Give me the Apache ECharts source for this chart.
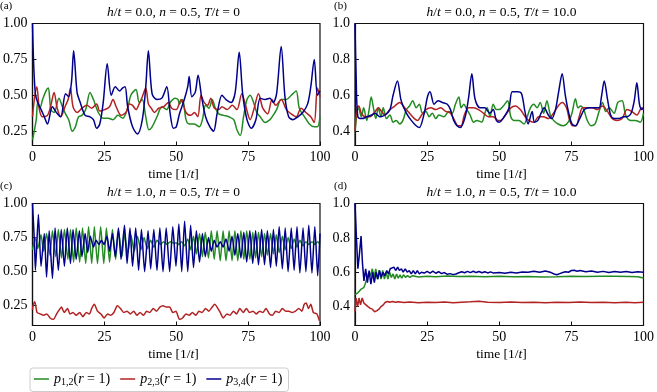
<!DOCTYPE html>
<html>
<head>
<meta charset="utf-8">
<script src="https://cdn.jsdelivr.net/npm/echarts@6/dist/echarts.min.js"></script>
<style>
  html,body{margin:0;padding:0;background:#fff}
  #chart{width:657px;height:392px}
</style>
</head>
<body>
<div id="chart"></div>
<script>
// ── ticks ────────────────────────────────────────────────
const xTicks  = [0, 25, 50, 75, 100];
const yTicksA = [0.25, 0.5, 0.75, 1.0];   // panels (a), (c)
const yTicksB = [0.4, 0.6, 0.8, 1.0];     // panels (b), (d)

// ── (a) h/t = 0.0, T/t = 0 : [time, p] ───────────────────
const aGreen = [[0,0.19],[1.3,0.33],[1.8,0.45],[2.6,0.41],[3.5,0.47],[4.7,0.53],[5.5,0.55],[6.4,0.40],[7.5,0.38],[9.2,0.48],[10.4,0.42],[11.5,0.37],[12.6,0.33],[13.8,0.25],[14.9,0.28],[16,0.35],[17.2,0.36],[18.5,0.40],[20,0.52],[21.2,0.47],[22.9,0.38],[24.6,0.34],[26.3,0.34],[28,0.33],[29.7,0.36],[31.4,0.34],[33.1,0.41],[34.2,0.50],[36,0.54],[37.1,0.45],[38.2,0.47],[39.4,0.35],[40.5,0.26],[41.6,0.28],[43.3,0.35],[45,0.42],[46.7,0.40],[47.9,0.45],[49.6,0.48],[50.6,0.47],[51.1,0.44],[52.2,0.47],[53.4,0.33],[54.5,0.30],[56.3,0.30],[58,0.28],[59.1,0.33],[60.2,0.43],[61.4,0.41],[62.5,0.47],[63.6,0.41],[64.8,0.37],[66.5,0.36],[68.3,0.35],[70,0.33],[71.1,0.26],[72.3,0.22],[73.4,0.35],[74.6,0.47],[75.7,0.50],[76.9,0.45],[78,0.38],[79.2,0.35],[80.9,0.31],[82.6,0.33],[83.7,0.36],[84.9,0.40],[86.5,0.47],[88.3,0.47],[90,0.50],[91.7,0.53],[92.8,0.41],[94.6,0.35],[96.3,0.30],[98,0.28],[99.1,0.28],[100,0.35]];
const aRed = [[0,0.35],[0.7,0.48],[1.5,0.56],[2.4,0.40],[3.5,0.35],[5.2,0.36],[6.4,0.43],[7.5,0.52],[8.6,0.41],[9.8,0.35],[11.5,0.43],[12.4,0.47],[13.2,0.55],[14.1,0.42],[15.5,0.38],[17.2,0.41],[18.9,0.43],[20.6,0.41],[22.3,0.44],[23.4,0.39],[25.1,0.40],[26.8,0.42],[28,0.47],[29.1,0.42],[30.8,0.36],[32.5,0.38],[33.7,0.44],[34.8,0.43],[36,0.40],[37.1,0.44],[38.2,0.49],[39.4,0.55],[40.3,0.44],[41.3,0.41],[42.4,0.38],[43.9,0.41],[45.6,0.42],[47.3,0.45],[48.4,0.41],[50,0.40],[51.7,0.47],[53.4,0.38],[55.1,0.36],[56.3,0.38],[57.5,0.35],[58.6,0.50],[59.7,0.45],[60.9,0.43],[62,0.48],[63.2,0.41],[64.8,0.40],[65.9,0.42],[67.7,0.40],[69.5,0.43],[71.1,0.40],[72.8,0.51],[74.1,0.43],[75.7,0.33],[77.1,0.41],[78.6,0.51],[80.1,0.41],[81.8,0.37],[83.3,0.47],[84.6,0.43],[86.5,0.47],[88.3,0.40],[90,0.37],[91.7,0.35],[93.4,0.41],[95.1,0.38],[96.8,0.35],[98,0.31],[99.1,0.55],[100,0.49]];
const aBlue = [[0,1.0],[0.4,0.72],[1,0.51],[1.8,0.45],[3,0.40],[4.1,0.35],[5.2,0.30],[6.9,0.42],[8.3,0.38],[9.8,0.35],[11.5,0.51],[12.6,0.49],[13.6,0.60],[14.3,0.81],[15.5,0.52],[16.6,0.45],[18.3,0.36],[20,0.35],[21.2,0.33],[22.3,0.27],[23.4,0.30],[24.6,0.45],[26,0.72],[27.4,0.50],[28.8,0.56],[30.3,0.53],[31.3,0.55],[32.2,0.56],[33.1,0.42],[34.8,0.28],[36.5,0.23],[38.2,0.33],[39.4,0.56],[40.3,0.81],[41.6,0.51],[43.3,0.47],[45,0.48],[46.7,0.56],[47.9,0.37],[49,0.27],[50,0.28],[51.1,0.37],[52.8,0.47],[54,0.56],[54.5,0.63],[55.4,0.49],[56.6,0.52],[57.6,0.64],[58.8,0.49],[60.2,0.35],[61.7,0.28],[63,0.25],[64.2,0.37],[65.9,0.50],[67.3,0.47],[69.1,0.45],[70.5,0.52],[71.9,0.80],[73.1,0.51],[74.6,0.33],[76.1,0.27],[77.7,0.33],[79.2,0.48],[80.9,0.47],[82.6,0.48],[83.7,0.45],[84.9,0.51],[86.5,0.84],[87.8,0.49],[89.1,0.35],[90.6,0.33],[92.3,0.35],[94,0.38],[95.7,0.44],[96.8,0.56],[98,0.75],[99.1,0.50],[100,0.53]];

// ── (b) h/t = 0.0, T/t = 10.0 ────────────────────────────
const bGreen = [[0,0.40],[1.25,0.53],[2.2,0.48],[3,0.53],[4.1,0.46],[4.9,0.52],[5.6,0.59],[6.4,0.53],[7.2,0.47],[8.1,0.53],[9,0.48],[9.8,0.53],[10.9,0.47],[12.1,0.49],[13.2,0.45],[14.3,0.46],[15.5,0.44],[16.6,0.46],[17.8,0.52],[18.9,0.54],[20,0.57],[21.2,0.53],[22.3,0.55],[23.4,0.50],[24.6,0.51],[25.7,0.48],[26.8,0.50],[28,0.47],[29.1,0.49],[30.8,0.48],[32.5,0.51],[33.7,0.50],[34.8,0.55],[36,0.59],[36.8,0.53],[37.7,0.55],[38.8,0.52],[39.9,0.49],[41.1,0.45],[42.2,0.46],[43.9,0.45],[45,0.50],[45.8,0.53],[46.8,0.48],[47.9,0.55],[49,0.52],[50,0.52],[51.4,0.54],[52.9,0.57],[54,0.48],[55.1,0.46],[56.8,0.46],[58.6,0.44],[59.7,0.48],[60.8,0.53],[62,0.55],[63.1,0.53],[64.2,0.56],[65.4,0.50],[66.5,0.57],[67.7,0.49],[68.8,0.46],[70.4,0.44],[72.2,0.43],[73.9,0.45],[75.2,0.50],[76.4,0.58],[77.3,0.53],[78.2,0.54],[79.3,0.52],[80.5,0.46],[81.8,0.43],[83.2,0.44],[84.6,0.51],[85.8,0.56],[86.9,0.51],[88.1,0.53],[89.8,0.50],[91.1,0.56],[92.6,0.57],[93.8,0.49],[95.5,0.46],[97.2,0.46],[98.9,0.45],[100,0.50]];
const bRed = [[0,0.40],[0.7,0.53],[1.3,0.54],[2.2,0.50],[3.5,0.48],[5.2,0.48],[7,0.51],[8.1,0.53],[9.2,0.51],[10.4,0.49],[12.1,0.52],[13.8,0.54],[15.5,0.56],[17.2,0.53],[18.9,0.50],[20.6,0.47],[21.7,0.46],[23.1,0.49],[24.6,0.52],[26.3,0.53],[28,0.52],[29.7,0.53],[31.4,0.51],[33.1,0.50],[34.5,0.46],[35.6,0.43],[36.8,0.43],[37.9,0.49],[39.4,0.53],[41.1,0.53],[42.8,0.52],[44.5,0.50],[46.2,0.48],[47.9,0.48],[49.6,0.46],[50.5,0.46],[52.2,0.49],[54,0.53],[55.6,0.54],[57.3,0.52],[59,0.48],[60.2,0.46],[62,0.45],[63.6,0.48],[65.4,0.48],[67,0.47],[68.8,0.50],[70.4,0.54],[71.8,0.56],[73.3,0.53],[74.4,0.46],[75.5,0.43],[76.6,0.43],[77.7,0.48],[78.9,0.53],[80.5,0.53],[82.3,0.53],[84,0.52],[85.8,0.54],[87.5,0.51],[89.2,0.47],[90.9,0.46],[92.6,0.47],[94.3,0.52],[95.9,0.51],[97.7,0.49],[99.4,0.53],[100,0.52]];
const bBlue = [[0,1.0],[0.4,0.70],[1,0.48],[2.4,0.47],[4.1,0.48],[5.8,0.49],[7,0.50],[8.6,0.48],[10.4,0.49],[12.1,0.52],[13.2,0.60],[14.7,0.68],[16,0.57],[17.8,0.50],[19.5,0.46],[21.2,0.43],[22.3,0.42],[24,0.50],[25.1,0.59],[26,0.62],[27.4,0.55],[28.8,0.57],[30.3,0.56],[32,0.55],[33.1,0.52],[34.2,0.46],[35.4,0.43],[36.5,0.42],[38.2,0.48],[39.4,0.59],[40.5,0.72],[41.6,0.58],[43.3,0.53],[45,0.53],[46.7,0.50],[47.9,0.52],[49,0.46],[50,0.45],[51.7,0.48],[53.4,0.53],[54.5,0.62],[56.3,0.62],[57.7,0.61],[58.9,0.51],[60,0.44],[61.4,0.51],[62.2,0.45],[63.4,0.46],[64.5,0.50],[65.6,0.53],[67,0.49],[68.2,0.47],[69.5,0.52],[70.6,0.62],[71.8,0.72],[72.9,0.60],[74.1,0.50],[75.2,0.44],[76.4,0.43],[77.9,0.47],[79.5,0.52],[81.2,0.53],[82.9,0.53],[84.6,0.53],[85.4,0.59],[86.4,0.68],[87.5,0.58],[88.6,0.49],[89.8,0.47],[91.5,0.47],[93.2,0.48],[94.3,0.48],[95.7,0.50],[96.8,0.57],[97.7,0.67],[98.6,0.55],[99.4,0.52],[100,0.53]];

// ── (c) h/t = 1.0, T/t = 0 ───────────────────────────────
const cGreen = [[0,0.66],[1.02,0.75],[1.82,0.67],[2.96,0.77],[3.87,0.65],[4.89,0.78],[6.03,0.62],[6.94,0.80],[8.08,0.61],[8.99,0.81],[10.1,0.60],[11.1,0.81],[12.3,0.59],[13.2,0.81],[14.3,0.57],[15.2,0.82],[16.4,0.57],[17.4,0.82],[18.5,0.56],[19.5,0.83],[20.6,0.56],[21.5,0.83],[22.6,0.56],[23.7,0.83],[24.8,0.56],[25.7,0.82],[26.8,0.57],[27.8,0.81],[28.9,0.59],[29.9,0.80],[31.1,0.61],[32,0.78],[33.1,0.63],[34.2,0.77],[35.4,0.65],[36.5,0.76],[37.7,0.66],[38.8,0.75],[39.9,0.67],[41.1,0.73],[42.2,0.68],[43.3,0.73],[44.5,0.70],[45.6,0.72],[46.8,0.70],[47.9,0.72],[49,0.71],[50,0.71],[50.9,0.70],[51.9,0.72],[52.9,0.69],[54,0.74],[55,0.66],[56,0.76],[57,0.63],[58.1,0.78],[59.1,0.61],[60.1,0.79],[61.2,0.60],[62.2,0.80],[63.2,0.59],[64.2,0.80],[65.3,0.58],[66.3,0.80],[67.3,0.58],[68.4,0.80],[69.4,0.58],[70.4,0.80],[71.4,0.58],[72.5,0.80],[73.5,0.59],[74.5,0.80],[75.6,0.59],[76.6,0.79],[77.6,0.60],[78.6,0.79],[79.7,0.61],[80.7,0.78],[81.7,0.62],[82.8,0.78],[83.8,0.63],[84.8,0.77],[85.8,0.64],[86.9,0.76],[87.9,0.66],[88.9,0.75],[90,0.67],[91,0.74],[92,0.68],[93,0.73],[94.1,0.69],[95.1,0.72],[96.1,0.70],[97.2,0.72],[98.2,0.70],[99.2,0.72],[100,0.70]];
const cRed = [[0,0.22],[0.2,0.25],[0.8,0.28],[1.6,0.20],[2.7,0.19],[3.9,0.18],[5,0.19],[6.1,0.16],[7.3,0.15],[8.4,0.19],[9,0.21],[10.1,0.24],[11,0.20],[12.2,0.23],[13,0.19],[14.1,0.20],[15.2,0.18],[16.4,0.20],[17.5,0.17],[18.7,0.20],[19.8,0.19],[20.6,0.23],[21.5,0.26],[22.6,0.21],[23.8,0.19],[24.9,0.16],[26.1,0.19],[27.2,0.18],[28.3,0.20],[29.5,0.25],[30.6,0.23],[31.7,0.20],[32.9,0.21],[34,0.19],[35.2,0.21],[36.3,0.18],[37.4,0.20],[38.6,0.18],[39.7,0.21],[40.8,0.20],[42,0.23],[43.1,0.21],[44.3,0.24],[45.4,0.25],[46.5,0.24],[47.7,0.24],[48.8,0.20],[49.9,0.21],[51.1,0.15],[52.2,0.16],[53.4,0.19],[54.5,0.18],[55.6,0.20],[56.8,0.18],[57.9,0.21],[59,0.20],[60.2,0.23],[61.3,0.21],[62.5,0.24],[63.4,0.26],[64.2,0.24],[65.3,0.20],[66.4,0.16],[67.6,0.19],[68.7,0.18],[69.9,0.21],[71,0.19],[72.1,0.23],[73.3,0.20],[74.4,0.23],[75.5,0.20],[76.7,0.21],[77.8,0.19],[79,0.21],[80.1,0.20],[81.2,0.23],[82.4,0.19],[83.5,0.18],[84.6,0.21],[85.8,0.20],[86.9,0.23],[88.1,0.21],[89.2,0.21],[90.3,0.20],[91.5,0.21],[92.6,0.23],[93.7,0.21],[94.5,0.26],[95.2,0.27],[96,0.23],[96.8,0.26],[97.7,0.20],[98.9,0.19],[99.8,0.14]];
const cBlue = [[0,1.0],[0.68,0.71],[1.02,0.51],[2.05,0.92],[2.96,0.54],[4.1,0.78],[4.89,0.46],[5.8,0.80],[6.94,0.45],[7.85,0.82],[8.99,0.51],[10,0.81],[11.1,0.54],[12.1,0.82],[13.2,0.56],[14.1,0.81],[15.2,0.59],[16.3,0.80],[17.2,0.61],[18.3,0.78],[19.2,0.64],[20.1,0.76],[21.2,0.68],[22.1,0.73],[23.1,0.70],[24,0.73],[24.9,0.70],[25.9,0.76],[26.8,0.65],[27.8,0.78],[28.8,0.61],[29.9,0.82],[30.8,0.59],[32,0.84],[32.9,0.56],[33.9,0.82],[34.8,0.54],[35.9,0.82],[36.9,0.51],[37.9,0.81],[39,0.50],[40.2,0.80],[41.1,0.52],[42.2,0.81],[43.3,0.51],[44.3,0.82],[45.4,0.50],[46.5,0.82],[47.7,0.50],[48.8,0.83],[49.9,0.54],[50.9,0.85],[51.9,0.50],[52.9,0.87],[54,0.50],[55,0.84],[56,0.53],[57,0.80],[58.1,0.57],[59.1,0.78],[60.1,0.61],[61.2,0.75],[62.2,0.65],[63.2,0.73],[64.2,0.68],[65.3,0.72],[66.3,0.68],[67.3,0.74],[68.4,0.65],[69.4,0.76],[70.4,0.62],[71.4,0.78],[72.5,0.60],[73.5,0.79],[74.5,0.57],[75.6,0.80],[76.6,0.56],[77.6,0.80],[78.6,0.55],[79.7,0.81],[80.7,0.55],[81.7,0.80],[82.8,0.53],[83.8,0.81],[84.8,0.54],[85.8,0.83],[86.9,0.52],[87.9,0.82],[88.9,0.50],[90,0.82],[91,0.51],[92,0.83],[93,0.49],[94.1,0.82],[95.1,0.50],[96.1,0.84],[97.2,0.49],[98.2,0.83],[99.2,0.47],[100,0.78]];

// ── (d) h/t = 1.0, T/t = 10.0 ────────────────────────────
const dGreen = [[0,0.47],[1,0.48],[2,0.50],[3,0.51],[3.5,0.53],[4.2,0.57],[4.8,0.60],[5.4,0.58],[6,0.62],[6.6,0.57],[7.2,0.62],[7.8,0.56],[8.4,0.61],[9,0.56],[9.6,0.61],[10.2,0.56],[10.8,0.60],[11.4,0.56],[12,0.60],[12.6,0.57],[13.2,0.59],[13.8,0.56],[14.4,0.59],[15,0.565],[15.6,0.585],[16.2,0.565],[16.8,0.585],[17.5,0.57],[18.2,0.58],[19,0.57],[20,0.58],[22,0.572],[25,0.577],[28,0.574],[32,0.578],[36,0.575],[40,0.577],[45,0.574],[50,0.576],[55,0.573],[60,0.575],[65,0.572],[70,0.574],[75,0.577],[80,0.575],[85,0.577],[90,0.576],[95,0.575],[98,0.574],[100,0.566]];
const dRed = [[0,0.37],[0.4,0.45],[0.9,0.40],[1.4,0.45],[1.9,0.41],[2.5,0.45],[3.1,0.42],[3.7,0.43],[4.5,0.40],[5.3,0.39],[6,0.385],[6.8,0.37],[7.5,0.375],[8.3,0.385],[9,0.40],[9.8,0.41],[10.5,0.425],[11.3,0.43],[12,0.425],[13,0.43],[14,0.425],[15,0.428],[17,0.424],[19,0.427],[22,0.423],[25,0.426],[28,0.424],[31,0.427],[34,0.423],[37,0.426],[40,0.428],[43,0.431],[46,0.426],[50,0.424],[54,0.427],[58,0.424],[62,0.426],[66,0.423],[70,0.426],[74,0.424],[78,0.427],[82,0.424],[86,0.426],[90,0.423],[94,0.425],[97,0.422],[100,0.425]];
const dBlue = [[0,1.0],[0.5,0.80],[1,0.62],[1.5,0.70],[2.1,0.81],[2.6,0.65],[3.1,0.55],[3.7,0.62],[4.3,0.54],[4.9,0.61],[5.5,0.53],[6.1,0.60],[6.7,0.54],[7.3,0.60],[7.9,0.56],[8.5,0.61],[9.1,0.57],[9.7,0.60],[10.3,0.58],[11,0.61],[11.6,0.59],[12.2,0.62],[12.8,0.61],[13.5,0.63],[14.1,0.61],[14.8,0.63],[15.4,0.61],[16.1,0.62],[16.7,0.60],[17.4,0.62],[18.1,0.60],[18.8,0.61],[19.5,0.59],[20.2,0.61],[20.9,0.59],[21.6,0.61],[22.3,0.59],[23,0.60],[24,0.595],[25,0.605],[26,0.595],[27,0.606],[28,0.594],[29,0.603],[30,0.592],[31,0.598],[32,0.588],[33,0.592],[34,0.586],[35,0.59],[36,0.597],[37,0.603],[38,0.597],[39,0.605],[40,0.598],[41,0.606],[42,0.598],[43,0.604],[44,0.597],[45,0.603],[46,0.596],[47,0.602],[48,0.595],[50,0.598],[52,0.594],[54,0.6],[56,0.596],[58,0.602],[60,0.6],[62,0.606],[64,0.6],[66,0.607],[68,0.598],[69,0.59],[70,0.585],[71,0.592],[72,0.598],[73,0.603],[74,0.6],[75,0.61],[76,0.612],[77,0.606],[78,0.61],[80,0.603],[82,0.607],[84,0.6],[86,0.605],[88,0.598],[90,0.604],[92,0.6],[94,0.604],[96,0.598],[98,0.603],[100,0.6]];

const GREEN = '#228B22', RED = '#B22222', BLUE = '#00008B';
const SERIF = '"Liberation Serif", "DejaVu Serif", serif';

const panels = [
  { tag: '(a)', hv: '0.0', T: '0',    left: 27,  top: 23.5,  ymin: 0.15, yt: yTicksA, dec: 2, g: aGreen, r: aRed, b: aBlue, sm: 0.3 },
  { tag: '(b)', hv: '0.0', T: '10.0', left: 355, top: 23.5,  ymin: 0.32, yt: yTicksB, dec: 1, g: bGreen, r: bRed, b: bBlue, sm: 0.3 },
  { tag: '(c)', hv: '1.0', T: '0',    left: 27,  top: 203.5, ymin: 0.105, yt: yTicksA, dec: 2, g: cGreen, r: cRed, b: cBlue, sm: 0.2 },
  { tag: '(d)', hv: '1.0', T: '10.0', left: 355, top: 203.5, ymin: 0.29, yt: yTicksB, dec: 1, g: dGreen, r: dRed, b: dBlue, sm: 0 }
];
const W = 293, H = 122;

const base = { fontFamily: SERIF, fontSize: 13.5, fontWeight: 'normal', color: '#000' };
const rich = {
  n: Object.assign({}, base),
  i: Object.assign({}, base, { fontStyle: 'italic' }),
  s: Object.assign({}, base, { fontSize: 9.5, padding: [7, 0, 0, 0] }),
  t: Object.assign({}, base, { fontSize: 14 })
};
const lrich = {
  n: Object.assign({}, base, { fontSize: 14 }),
  i: Object.assign({}, base, { fontSize: 14, fontStyle: 'italic' }),
  s: Object.assign({}, base, { fontSize: 10, padding: [7, 0, 0, 0] })
};

const grid = [], xAxis = [], yAxis = [], series = [], graphic = [];
panels.forEach((p, k) => {
  grid.push({ left: p.left, top: p.top, width: W, height: H, show: true,
    borderColor: '#111', borderWidth: 1.2, backgroundColor: 'transparent' });
  xAxis.push({ type: 'value', gridIndex: k, min: 0, max: 100, interval: 25,
    axisLine: { lineStyle: { color: '#111', width: 1.2 } },
    axisTick: { inside: true, length: 4, lineStyle: { color: '#111' } },
    axisLabel: { margin: 5, rich, formatter: v => '{t|' + v + '}' },
    splitLine: { show: false } });
  yAxis.push({ type: 'value', gridIndex: k, min: p.ymin, max: 1.0,
    axisLine: { show: true, lineStyle: { color: '#111', width: 1.2 } },
    axisTick: { show: true, inside: true, length: 4, customValues: p.yt, lineStyle: { color: '#111' } },
    axisLabel: { margin: 5, customValues: p.yt, rich, formatter: v => '{t|' + v.toFixed(p.dec) + '}' },
    splitLine: { show: false } });
  const line = (name, data, color) => ({
    name, type: 'line', xAxisIndex: k, yAxisIndex: k, data, showSymbol: false, symbol: 'none',
    smooth: p.sm, lineStyle: { color, width: 1.5 }, itemStyle: { color }, animation: false
  });
  series.push(line('p12', p.g, GREEN), line('p23', p.r, RED), line('p34', p.b, BLUE));

  const cx = p.left + W / 2;
  // panel title
  graphic.push({ type: 'text', x: cx, y: p.top - 11, style: {
    text: '{i|h}{n|/}{i|t}{n| = ' + p.hv + ', }{i|n}{n| = 0.5, }{i|T}{n|/}{i|t}{n| = ' + p.T + '}',
    rich, align: 'center', verticalAlign: 'middle' } });
  // x-axis name
  graphic.push({ type: 'text', x: cx, y: p.top + H + 28.5, style: {
    text: '{n|time [1/}{i|t}{n|]}', rich, align: 'center', verticalAlign: 'middle' } });
  // panel tag
  graphic.push({ type: 'text', x: p.left - 27 + (k % 2 ? 6 : 0), y: p.top - 17, style: {
    text: p.tag, font: '11px ' + SERIF, fill: '#000', align: 'left', verticalAlign: 'middle' } });
});

const legendNames = { p12: '1,2', p23: '2,3', p34: '3,4' };

const chart = echarts.init(document.getElementById('chart'), null, { renderer: 'canvas' });
chart.setOption({
  animation: false,
  backgroundColor: '#fff',
  textStyle: { fontFamily: SERIF, fontWeight: 'normal' },
  grid, xAxis, yAxis, series, graphic,
  legend: {
    data: ['p12', 'p23', 'p34'], left: 30, top: 368,
    orient: 'horizontal', icon: 'rect', itemWidth: 15, itemHeight: 1.5, itemGap: 10,
    padding: [4, 6, 4, 4], borderColor: '#ccc', borderWidth: 1, borderRadius: 3,
    selectedMode: false,
    formatter: name => '{i|p}{s|' + legendNames[name] + '}{n|(}{i|r}{n| = 1)}',
    textStyle: { rich: lrich }
  }
});
</script>
</body>
</html>
